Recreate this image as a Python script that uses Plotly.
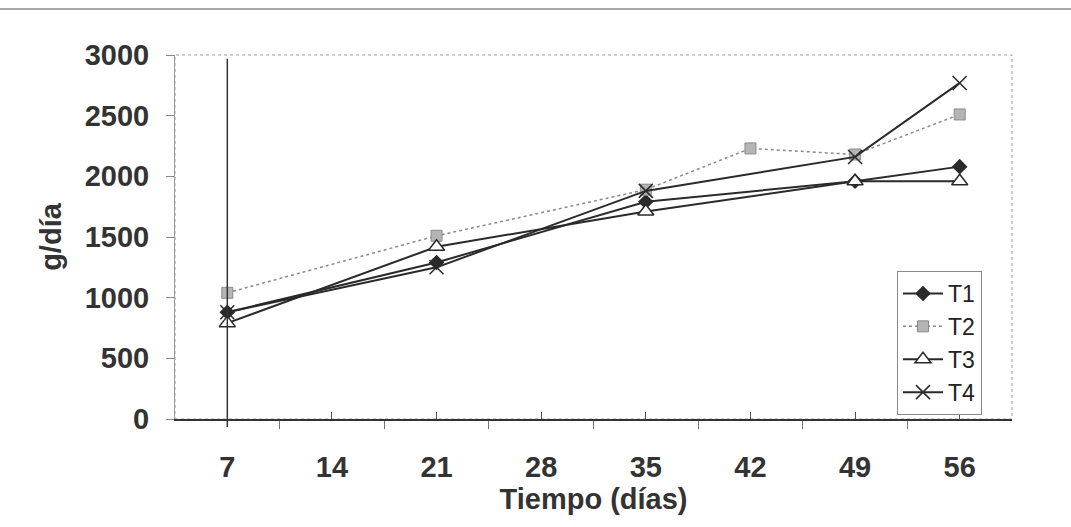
import plotly.graph_objects as go

days = [7, 14, 21, 28, 35, 42, 49, 56]
t1 = [880, None, 1290, None, 1790, None, 1960, 2080]
t2 = [1040, None, 1510, None, 1890, 2230, 2180, 2510]
t3 = [790, None, 1420, None, 1710, None, 1960, 1960]
t4 = [880, None, 1250, None, 1880, None, 2160, 2770]
y_ticks = [0, 500, 1000, 1500, 2000, 2500, 3000]

FONT = "Liberation Sans, Arial, sans-serif"
DARK = "#2a2a2a"

fig = go.Figure()
fig.add_trace(go.Scatter(x=days, y=t1, name="T1", mode="lines+markers", connectgaps=True,
                         line=dict(color=DARK, width=2),
                         marker=dict(symbol="diamond", size=12, color=DARK)))
fig.add_trace(go.Scatter(x=days, y=t2, name="T2", mode="lines+markers", connectgaps=True,
                         line=dict(color="#8a8a8a", width=1.5, dash="dot"),
                         marker=dict(symbol="square", size=11, color="#b5b5b5",
                                     line=dict(color="#8a8a8a", width=1))))
fig.add_trace(go.Scatter(x=days, y=t3, name="T3", mode="lines+markers", connectgaps=True,
                         line=dict(color=DARK, width=2),
                         marker=dict(symbol="triangle-up", size=14, color="white",
                                     line=dict(color=DARK, width=1.5))))
fig.add_trace(go.Scatter(x=days, y=t4, name="T4", mode="lines+markers", connectgaps=True,
                         line=dict(color=DARK, width=2),
                         marker=dict(symbol="x-thin", size=14, color=DARK,
                                     line=dict(color=DARK, width=1.5))))

L, R, T, B = 175, 1071 - 1012, 55, 527 - 419
ph = 527 - T - B
pw = 1071 - L - R

shapes = [
    # plot frame (light grey)
    dict(type="rect", xref="paper", yref="paper", x0=0, x1=1, y0=0, y1=1,
         line=dict(color="#a0a0a0", width=1, dash="dot"), layer="below"),
    # vertical line at the first category
    dict(type="line", xref="x", yref="paper", x0=7, x1=7, y0=-0.022, y1=0.99,
         line=dict(color="#333333", width=1.5)),
    # scanned page edge line at top
    dict(type="line", xref="paper", yref="paper", x0=-L / pw, x1=(1071 - L) / pw,
         y0=(ph + T - 9) / ph, y1=(ph + T - 9) / ph,
         line=dict(color="#8a8a8a", width=1.5)),
]

fig.update_layout(
    width=1071, height=527,
    margin=dict(l=L, r=R, t=T, b=B, autoexpand=False),
    paper_bgcolor="white", plot_bgcolor="white",
    font=dict(family=FONT, color="#333333"),
    shapes=shapes,
    showlegend=True,
    legend=dict(x=(897 - L) / pw, y=(419 - 415) / ph, xanchor="left", yanchor="bottom",
                bgcolor="white", bordercolor="#8a8a8a", borderwidth=1,
                font=dict(size=23, family=FONT, color="#222222"),
                itemwidth=40, tracegroupgap=0),
    xaxis=dict(range=[3.5, 59.5], tickmode="array", tickvals=days,
               ticktext=[str(d) for d in days],
               ticks="inside", ticklen=7, tickcolor="#555555", tickwidth=1,
               showline=True, linecolor="#333333", linewidth=1.5,
               showgrid=False, zeroline=False,
               tickfont=dict(size=29, family=FONT, color="#333333", weight="bold"),
               ticklabelstandoff=21,
               minor=dict(tickmode="array", tickvals=[d + 3.5 for d in days[:-1]] + [3.5, 59.5],
                          ticks="outside", ticklen=8, tickcolor="#777777", showgrid=False),
               title=dict(text="Tiempo (días)", standoff=0,
                          font=dict(size=29, family=FONT, color="#333333", weight="bold"))),
    yaxis=dict(range=[0, 3000], tickmode="array", tickvals=y_ticks,
               ticks="outside", ticklen=8, tickcolor="#888888",
               showline=True, linecolor="#999999", linewidth=1,
               showgrid=False, zeroline=False,
               tickfont=dict(size=29, family=FONT, color="#333333", weight="bold"),
               ticklabelstandoff=11,
               title=dict(text="g/día", standoff=14,
                          font=dict(size=29, family=FONT, color="#333333", weight="bold"))),
)

fig.write_html("out.html")
